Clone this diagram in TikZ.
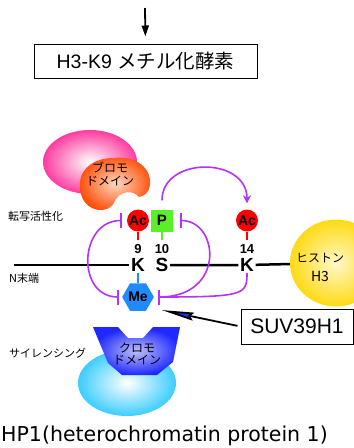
\documentclass[tikz,border=0pt]{standalone}
\usepackage{fontspec}
\setmainfont{Liberation Sans}
\newfontfamily\jp{Noto Sans CJK JP}
\newfontfamily\wide{DejaVu Sans}
\usetikzlibrary{arrows.meta,shapes.geometric}
\definecolor{inhib}{RGB}{180,50,250}
\definecolor{acred}{RGB}{255,0,0}
\definecolor{pgreen}{RGB}{90,240,40}
\definecolor{meblue}{RGB}{30,140,255}
\definecolor{suvblue}{RGB}{20,60,230}
\definecolor{bromopink}{RGB}{255,60,160}
\definecolor{bromoorange}{RGB}{255,80,10}
\definecolor{bromolight}{RGB}{255,215,190}
\definecolor{chromoblue}{RGB}{30,40,255}
\definecolor{chromolight}{RGB}{190,190,255}
\definecolor{hpcyan}{RGB}{60,205,255}
\definecolor{h3yellow}{RGB}{255,218,20}
\definecolor{h3light}{RGB}{255,248,200}

\begin{document}
\begin{tikzpicture}[x=1pt,y=-1pt,
  jplabel/.style={font=\jp\fontsize{11}{12}\selectfont, align=center, inner sep=0pt},
  residue/.style={font=\bfseries\fontsize{19}{19}\selectfont, inner sep=1.5pt},
  resnum/.style={font=\bfseries\fontsize{13}{13}\selectfont, inner sep=1pt},
  acmark/.style={circle, fill=acred, minimum size=22pt, inner sep=0pt, font=\bfseries\fontsize{14}{14}\selectfont},
  pmark/.style={rectangle, fill=pgreen, minimum size=22pt, inner sep=0pt, font=\bfseries\fontsize{15}{15}\selectfont},
  memark/.style={regular polygon, regular polygon sides=6, fill=meblue, minimum size=27pt, inner sep=0pt, font=\bfseries\fontsize{14}{14}\selectfont},
  stem/.style={line width=2.5pt, shorten >=3pt},
  chain/.style={line width=2.5pt},
  inhibit/.style={draw=inhib, line width=1.6pt, {Bar[width=15pt]}-{Bar[width=15pt]}},
  promote/.style={draw=inhib, line width=1.6pt, -{Stealth[length=8pt,width=8pt]}},
  labelbox/.style={draw, line width=1pt, inner sep=0pt},
]
\useasboundingbox (0,0) rectangle (354,448);

\coordinate (src) at (145,8);
\node[labelbox, minimum width=223pt, minimum height=34pt, font=\fontsize{19.5}{19.5}\selectfont] (enzyme) at (145.5,61) {H3-K9 {\jp メチル化酵素}};
\draw[line width=1.8pt, -{Triangle[length=11pt,width=7pt]}, shorten >=7pt] (src) -- (enzyme.north);

\shade[inner color=white, outer color=bromopink] (90,162) ellipse [x radius=47, y radius=32];
\shade[inner color=bromolight, outer color=bromoorange] (113,158) .. controls (138,155) and (152,170) .. (150,185) .. controls (149,192) and (145,196) .. (139,197) .. controls (133,189) and (118,191) .. (114,203) .. controls (110,210) and (100,212) .. (92,208) .. controls (82,203) and (79,192) .. (80,182) .. controls (81,168) and (95,158) .. (113,158) -- cycle;
\node[jplabel, font=\jp\fontsize{12}{12.5}\selectfont] (bromo) at (110,174) {ブロモ\\ドメイン};
\node[jplabel, anchor=west] (activ) at (8,216) {転写活性化};

\shade[inner color=white, outer color=hpcyan] (127,383) ellipse [x radius=49, y radius=33];
\shade[inner color=chromolight, outer color=chromoblue] (93,327) -- (118,327) -- (128,338) -- (143,338) -- (153,327) -- (180,327) -- (173,362) -- (157,375) -- (122,375) -- (108,363) -- cycle;
\node[jplabel, font=\jp\fontsize{12}{12.5}\selectfont] (chromo) at (137,354) {クロモ\\ドメイン};
\node[jplabel, anchor=west] (silence) at (9,353) {サイレンシング};

\node[ellipse, minimum width=92pt, minimum height=87pt, inner color=h3light, outer color=h3yellow] (h3) at (336,263) {};
\node[jplabel, font=\jp\fontsize{12}{19}\selectfont] (h3name) at (320,267) {ヒストン\\{\fontsize{14}{14}\selectfont H3}};

\coordinate (nterm) at (14,265);
\node[jplabel, anchor=west] (ntermlabel) at (9,278) {N末端};
\node[residue] (k9) at (138,265) {K};
\node[residue] (s10) at (162,265) {S};
\node[residue] (k14) at (247,265) {K};
\node[resnum] (n9) at (138,249) {9};
\node[resnum] (n10) at (162,249) {10};
\node[resnum] (n14) at (247,249) {14};
\draw[chain] (nterm) -- (k9);
\draw[chain] (s10) -- (k14) -- (h3);

\node[acmark] (ac9) at (138,220.5) {Ac};
\node[pmark] (p10) at (162,220.5) {P};
\node[acmark] (ac14) at (247,220.5) {Ac};
\node[memark] (me9) at (138,297) {Me};
\draw[stem, acred] (ac9) -- (n9);
\draw[stem, pgreen] (p10) -- (n10);
\draw[stem, acred] (ac14) -- (n14);
\draw[stem, meblue, shorten >=0pt] (k9) -- (me9);

\draw[inhibit, shorten <=5pt, shorten >=3pt] (ac9.west) .. controls +(-48,0) and +(-46,0) .. (me9.west);
\draw[inhibit, shorten <=7pt, shorten >=4pt] (p10.east) .. controls +(46,0) and +(72,0) .. (me9.east);
\draw[inhib, line width=1.6pt, shorten >=4pt] (k14) .. controls +(0,30) and +(90,0) .. (me9.east);
\draw[promote, shorten <=9pt, shorten >=6pt] (p10.north) .. controls +(0,-53) and +(0,-53) .. (ac14.north);

\node[labelbox, minimum width=112pt, minimum height=35pt, font=\fontsize{21}{21}\selectfont] (suv) at (297,326.5) {SUV39H1};
\draw[line width=1.8pt, -{Stealth[length=32pt,width=8pt,inset=3pt,fill=suvblue]}, shorten <=3pt, shorten >=14pt] (suv.west) -- (me9.south east);

\node[anchor=west, inner sep=0pt, font=\wide\fontsize{20.5}{20.5}\selectfont] (hp1) at (1,436) {HP1(heterochromatin protein 1)};
\end{tikzpicture}
\end{document}
